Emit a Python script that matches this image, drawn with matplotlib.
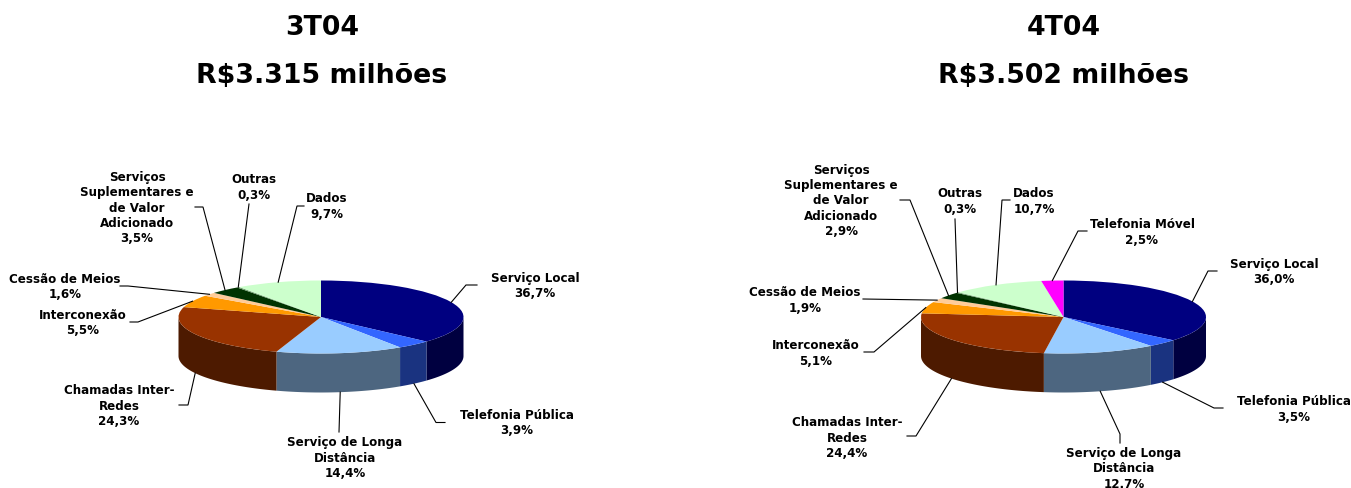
import matplotlib
matplotlib.use("agg")
import matplotlib.pyplot as plt
import numpy as np

W, H = 1351, 489

names_3t04 = ["Serviço Local", "Telefonia Pública", "Serviço de Longa\nDistância",
              "Chamadas Inter-\nRedes", "Interconexão", "Cessão de Meios",
              "Serviços\nSuplementares e\nde Valor\nAdicionado", "Outras", "Dados"]
values_3t04 = [36.7, 3.9, 14.4, 24.3, 5.5, 1.6, 3.5, 0.3, 9.7]

names_4t04 = names_3t04 + ["Telefonia Móvel"]
values_4t04 = [36.0, 3.5, 12.7, 24.4, 5.1, 1.9, 2.9, 0.3, 10.7, 2.5]

top_colors = ["#000080", "#3366ff", "#99ccff", "#993300", "#ff9900",
              "#ffcc99", "#003300", "#669966", "#ccffcc", "#ff00ff"]
side_colors = ["#000040", "#1a3380", "#4d6680", "#4d1a00", "#804d00",
               "#806650", "#001a00", "#334d33", "#668066", "#800080"]

# label centre (x, y) and the elbow points of each leader, in pixels
layout_3t04 = [
    ((535, 286), [(477, 286), (466, 286)]),
    ((517, 423), [(445, 423.5), (436, 423.5)]),
    ((345, 458), [(339, 433)]),
    ((119, 406), [(179, 406), (188, 406)]),
    ((83, 323), [(130, 323), (138, 323)]),
    ((65, 287), [(120, 287), (128, 287)]),
    ((137, 208), [(195, 208), (203, 208)]),
    ((254, 187.5), [(249, 205)]),
    ((327, 206.5), [(304, 207), (297, 207)]),
]
layout_4t04 = [
    ((1274, 272), [(1217, 272), (1208, 272)]),
    ((1294, 409.5), [(1223, 409), (1214, 409)]),
    ((1124, 469), [(1120, 444), (1120, 435)]),
    ((847, 438), [(907, 437), (916, 437)]),
    ((816, 353.5), [(864, 353), (874, 353)]),
    ((805, 300.5), [(863, 300)]),
    ((841, 201), [(900, 201), (910, 201)]),
    ((960, 201.5), [(955, 220)]),
    ((1034, 201.5), [(1010, 201), (1002, 201)]),
    ((1142, 232.5), [(1087, 232), (1078, 232)]),
]

LABEL_SIZE = 8.6
TITLE_SIZE = 19.3


def pct_text(v):
    return f"{v:.1f}%".replace(".", ",")


def drawPie(fig, overlay, values, names, layout, cx, title, subtitle, title_x, shares=None):
    cy, a, b, depth = 318, 142.5, 36.5, 39

    ax = fig.add_axes([(cx - a) / W, 1 - (cy + b) / H, 2 * a / W, 2 * b / H])
    wedges, _ = ax.pie(values, colors=top_colors[:len(values)], startangle=90,
                       counterclock=False, radius=1, wedgeprops={"linewidth": 0})
    for w in wedges:
        w.set_clip_on(False)
    ax.set_aspect("auto")
    ax.set_xlim(-1, 1)
    ax.set_ylim(-1, 1)
    ax.patch.set_visible(False)

    # outer wall: only the front half of the rim shows
    edges = np.cumsum([0] + values) / sum(values) * 2 * np.pi
    for i in range(len(values)):
        lo = max(edges[i], np.pi / 2)
        hi = min(edges[i + 1], 3 * np.pi / 2)
        if hi <= lo:
            continue
        t = np.linspace(lo, hi, 80)
        xs = np.concatenate([np.sin(t), np.sin(t[::-1])])
        ys = np.concatenate([np.cos(t), np.cos(t[::-1]) - depth / b])
        ax.fill(xs, ys, color=side_colors[i], lw=0, zorder=0, clip_on=False)

    # labels and leaders, the leader ends on the rim at the middle of its slice
    for i in range(len(values)):
        mid = (edges[i] + edges[i + 1]) / 2
        px = cx + a * np.sin(mid)
        py = cy - b * np.cos(mid)
        if np.pi / 2 < mid < 3 * np.pi / 2:
            py += depth
        pos, elbow = layout[i]
        pts = [(px, py)] + elbow[::-1]
        overlay.plot([p[0] for p in pts], [p[1] for p in pts], color="black", lw=0.8,
                     solid_joinstyle="miter")
        share = shares[i] if shares else pct_text(values[i])
        overlay.text(pos[0], pos[1], names[i] + "\n" + share, ha="center", va="center",
                     fontsize=LABEL_SIZE, fontweight="bold", linespacing=1.21, color="black")

    overlay.text(title_x, 28, title, ha="center", va="center", fontsize=TITLE_SIZE, fontweight="bold")
    overlay.text(title_x, 76, subtitle, ha="center", va="center", fontsize=TITLE_SIZE, fontweight="bold")


def main():
    plt.rcParams["font.family"] = "DejaVu Sans"
    fig = plt.figure(figsize=(W / 100, H / 100), dpi=100, facecolor="w")
    overlay = fig.add_axes([0, 0, 1, 1], zorder=5)
    overlay.set_xlim(0, W)
    overlay.set_ylim(H, 0)
    overlay.axis("off")

    drawPie(fig, overlay, values_3t04, names_3t04, layout_3t04, 321,
            "3T04", "R$3.315 milhões", 322)
    # this table prints the long distance share with a point
    shares = [pct_text(v) for v in values_4t04]
    shares[2] = "12.7%"
    drawPie(fig, overlay, values_4t04, names_4t04, layout_4t04, 1063.5,
            "4T04", "R$3.502 milhões", 1064, shares)

    fig.savefig("out.png", dpi=100, facecolor="w")


if __name__ == '__main__':
    main()
